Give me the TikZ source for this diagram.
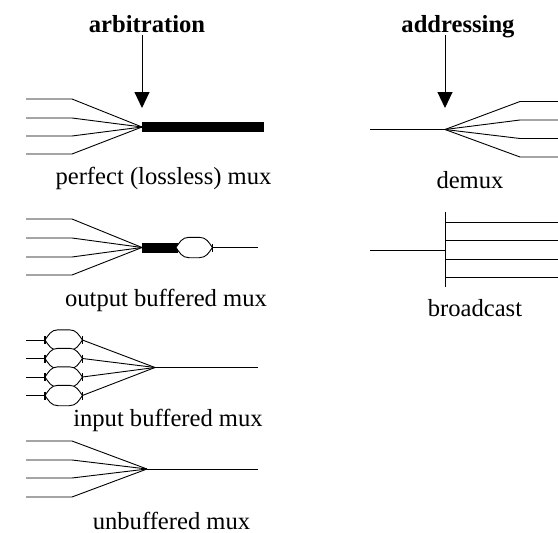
\documentclass[tikz,border=0pt]{standalone}
\usepackage{fontspec}
\setmainfont{Liberation Serif}
\usetikzlibrary{arrows.meta}
\tikzset{
  wire/.style={draw=black,line width=0.9pt},
  bar/.style={draw=none,fill=black,inner sep=0pt,minimum height=10pt},
  buffer/.style={draw=none,minimum width=36pt,minimum height=20pt,inner sep=0pt},
  tickmark/.style={draw=black,line width=1.7pt},
  ctrl/.style={draw=black,line width=1pt,-{Triangle[width=15pt,length=16pt]}},
  lbl/.style={inner sep=0pt,font=\fontsize{24.6}{28}\selectfont},
  hdr/.style={inner sep=0pt,font=\fontsize{24.6}{28}\selectfont\bfseries}
}
\newcommand{\ovalOutline}[1]{%
  \draw[wire,fill=white] (#1.west)
    .. controls +(3.5,-5) and +(-7,0) .. ([xshift=13pt]#1.north west)
    -- ([xshift=-13pt]#1.north east)
    .. controls +(7,0) and +(-3.5,-5) .. (#1.east)
    .. controls +(-3.5,5) and +(7,0) .. ([xshift=-13pt]#1.south east)
    -- ([xshift=13pt]#1.south west)
    .. controls +(-7,0) and +(3.5,5) .. (#1.west) -- cycle;}
\newcommand{\tickAt}[1]{\draw[tickmark] ([yshift=4pt]#1) -- ([yshift=-4pt]#1);}
\begin{document}
\begin{tikzpicture}[x=1pt,y=-1pt]
\useasboundingbox (0,0) rectangle (558,533);
% headers
\node[hdr,anchor=base] (harb) at (147,32) {arbitration};
\node[hdr,anchor=base] (hadr) at (458,32) {addressing};
\coordinate (arbS) at (142,35);
\coordinate (arbT) at (142,108);
\coordinate (adrS) at (445,35);
\coordinate (adrT) at (445,108);
\draw[ctrl] (arbS) -- (arbT);
\draw[ctrl] (adrS) -- (adrT);
% perfect mux
\coordinate (p) at (142,127);
\foreach \i/\y in {1/99,2/118,3/136,4/154}{
  \draw[wire] (26,\y) -- (72,\y) -- (p);
}
\node[bar,anchor=west,minimum width=121.5pt] (pbar) at (p) {};
\node[lbl,anchor=base] (lp) at (163.5,184) {perfect (lossless) mux};
% output buffered
\coordinate (o) at (142,247.5);
\foreach \i/\y in {1/219,2/238,3/257,4/275}{
  \draw[wire] (26,\y) -- (72,\y) -- (o);
}
\node[bar,anchor=west,minimum width=36pt] (obar) at (o) {};
\node[buffer,anchor=west] (obuf) at (176,247.5) {};
\ovalOutline{obuf}
\coordinate (oend) at (258,247.5);
\draw[wire] (obuf.east) -- (oend);
\tickAt{obuf.east}
\node[lbl,anchor=base] (lo) at (166,306) {output buffered mux};
% input buffered
\coordinate (i) at (155,367.5);
\coordinate (iend) at (258,367.5);
\foreach \n/\y in {1/340,2/358.5,3/377,4/395.5}{
  \coordinate (il\n) at (26,\y);
  \node[buffer,anchor=west,minimum width=37pt] (ib\n) at (45,\y) {};
  \ovalOutline{ib\n}
  \draw[wire] (il\n) -- (ib\n.west);
  \draw[wire] (ib\n.east) -- (i);
  \tickAt{ib\n.west}
  \tickAt{ib\n.east}
}
\draw[wire] (i) -- (iend);
\node[lbl,anchor=base] (li) at (168,426) {input buffered mux};
% unbuffered
\coordinate (u) at (147,469);
\coordinate (uend) at (258,469);
\foreach \i/\y in {1/441,2/460,3/478,4/497}{
  \draw[wire] (26,\y) -- (72,\y) -- (u);
}
\draw[wire] (u) -- (uend);
\node[lbl,anchor=base] (lu) at (171.5,529) {unbuffered mux};
% demux
\coordinate (d) at (445,129.5);
\coordinate (din) at (370,129.5);
\draw[wire] (din) -- (d);
\foreach \i/\y in {1/101.5,2/120,3/138.5,4/157}{
  \draw[wire] (d) -- (520,\y) -- (558,\y);
}
\node[lbl,anchor=base] (ld) at (470,188) {demux};
% broadcast
\coordinate (bT) at (445,212);
\coordinate (bB) at (445,287);
\coordinate (bin) at (370,250);
\draw[wire] (bT) -- (bB);
\draw[wire] (bin) -- (445,250);
\foreach \i/\y in {1/222,2/240,3/259.5,4/277}{
  \draw[wire] (445,\y) -- (558,\y);
}
\node[lbl,anchor=base] (lb) at (475,316) {broadcast};
\end{tikzpicture}
\end{document}
